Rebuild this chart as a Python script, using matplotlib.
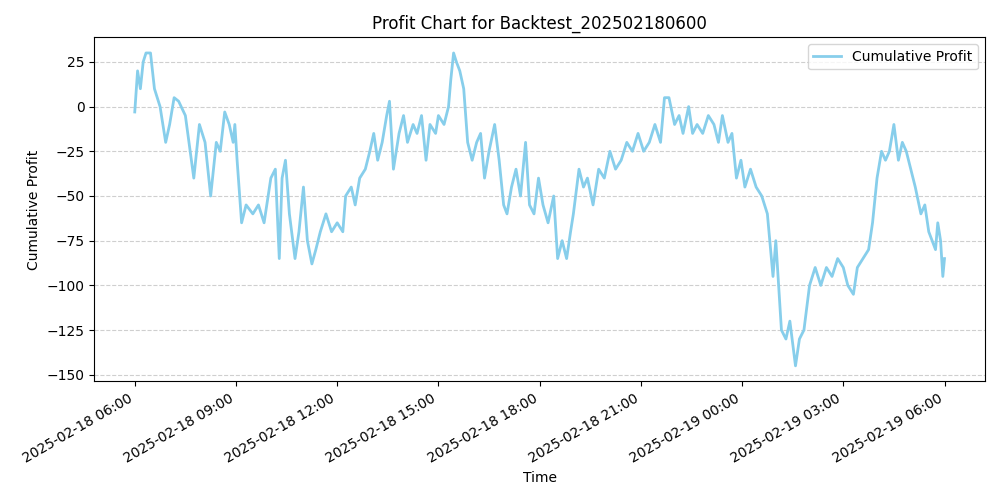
import numpy as np
import matplotlib.pyplot as plt
import matplotlib.dates as mdates
import pandas as pd

# minutes since 2025-02-18 06:00 and cumulative profit
minutes = [0, 5, 10, 15, 20, 28, 35, 45, 55, 62, 70, 78, 90, 105, 115, 125, 135, 145, 152, 160,
           168, 175, 178, 182, 190, 198, 210, 220, 230, 242, 250, 257, 262, 268, 275, 285, 292, 300,
           307, 315, 322, 330, 340, 350, 360, 370, 375, 385, 392, 400, 410, 418, 425, 432, 440, 448,
           453, 460, 470, 478, 485, 495, 502, 510, 518, 525, 535, 540, 550, 558, 562, 567, 572, 578,
           585, 592, 600, 608, 615, 622, 630, 640, 648, 656, 662, 670, 678, 686, 695, 702, 710, 718,
           726, 735, 745, 752, 760, 768, 775, 780, 790, 798, 805, 815, 825, 835, 845, 855, 865, 875,
           885, 895, 905, 915, 925, 935, 942, 950, 960, 968, 975, 985, 992, 1000, 1010, 1020, 1030,
           1038, 1045, 1055, 1062, 1070, 1078, 1085, 1095, 1105, 1115, 1125, 1135, 1140, 1150, 1158,
           1165, 1175, 1182, 1190, 1200, 1210, 1220, 1230, 1240, 1250, 1260, 1268, 1278, 1285, 1295,
           1305, 1312, 1320, 1328, 1335, 1342, 1350, 1358, 1365, 1372, 1380, 1388, 1398, 1405, 1412,
           1418, 1424, 1428, 1433, 1437, 1440]
profit = [-3, 20, 10, 25, 30, 30, 10, 0, -20, -10, 5, 3, -5, -40, -10, -20, -50, -20, -25, -3,
          -10, -20, -10, -30, -65, -55, -60, -55, -65, -40, -35, -85, -40, -30, -60, -85, -70, -45,
          -75, -88, -80, -70, -60, -70, -65, -70, -50, -45, -55, -40, -35, -25, -15, -30, -20, -5,
          3, -35, -15, -5, -20, -10, -15, -5, -30, -10, -15, -5, -10, 0, 15, 30, 25, 20,
          10, -20, -30, -20, -15, -40, -25, -10, -30, -55, -60, -45, -35, -50, -20, -55, -60, -40,
          -55, -65, -50, -85, -75, -85, -70, -60, -35, -45, -40, -55, -35, -40, -25, -35, -30, -20,
          -25, -15, -25, -20, -10, -20, 5, 5, -10, -5, -15, 0, -15, -10, -15, -5, -10,
          -20, -5, -20, -15, -40, -30, -45, -35, -45, -50, -60, -95, -75, -125, -130,
          -120, -145, -130, -125, -100, -90, -100, -90, -95, -85, -90, -100, -105, -90, -85,
          -80, -65, -40, -25, -30, -25, -10, -30, -20, -25, -35, -45, -60, -55, -70,
          -75, -80, -65, -75, -95, -85]

times = pd.Timestamp("2025-02-18 06:00") + pd.to_timedelta(minutes, unit="min")

fig, ax = plt.subplots(figsize=(10, 5), dpi=100)
ax.plot(times, profit, color='skyblue', linewidth=2, label='Cumulative Profit')
ax.set_title('Profit Chart for Backtest_202502180600')
ax.set_xlabel('Time')
ax.set_ylabel('Cumulative Profit')
ax.grid(axis='y', linestyle='--', alpha=0.6)
ax.legend(loc='upper right')
ax.xaxis.set_major_locator(mdates.HourLocator(byhour=range(0, 24, 3)))
ax.xaxis.set_major_formatter(mdates.DateFormatter('%Y-%m-%d %H:%M'))
ax.set_yticks([25, 0, -25, -50, -75, -100, -125, -150])
fig.autofmt_xdate()
fig.tight_layout()
fig.savefig('out.png')
